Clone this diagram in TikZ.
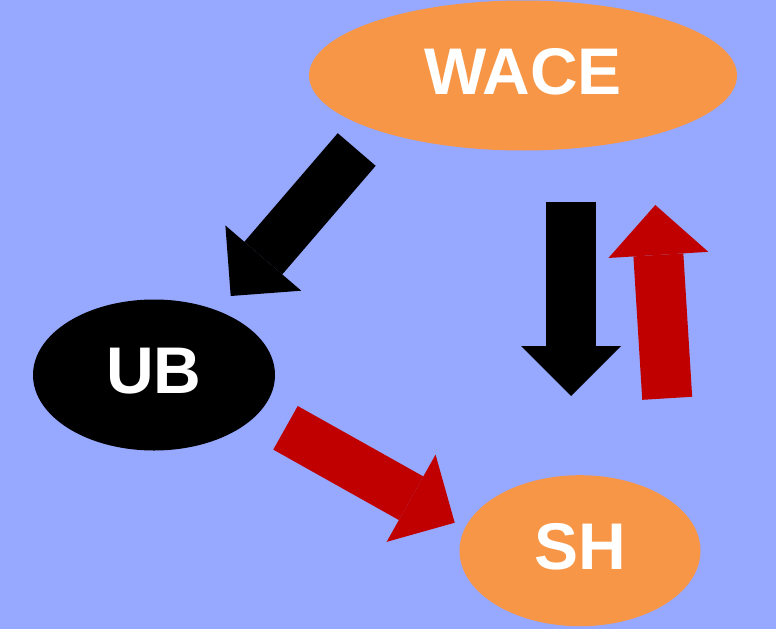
\documentclass[tikz,border=0pt]{standalone}
\usepackage{fontspec}
\setmainfont{Liberation Sans}
\usetikzlibrary{arrows.meta, shapes.geometric}

\definecolor{bgblue}{RGB}{151,168,255}
\definecolor{bloborange}{RGB}{247,150,70}
\definecolor{darkred}{RGB}{192,0,0}

\begin{document}
\begin{tikzpicture}[x=1pt,y=-1pt,
  blob/.style={ellipse, inner sep=0pt, text=white, text depth=9pt,
    font=\fontsize{66}{66}\selectfont\bfseries},
  bigarrow/.style={line width=50pt, -{Triangle[width=100pt,length=50pt,line width=0pt]}}]
\fill[bgblue] (0,0) rectangle (776,629);
\useasboundingbox (0,0) rectangle (776,629);
% the three ellipses
\node[blob, fill=bloborange, minimum width=428pt, minimum height=150pt] (wace) at (523,75.5) {WACE};
\node[blob, fill=black, minimum width=242pt, minimum height=151pt] (ub) at (154,375) {UB};
\node[blob, fill=bloborange, minimum width=241pt, minimum height=151pt] (sh) at (580,550.7) {SH};
% ends of the block arrows
\coordinate (wace-ub-tail) at (356.7,149.5);
\coordinate (wace-ub-tip) at (230.7,296);
\coordinate (wace-sh-tail) at (571,202.3);
\coordinate (wace-sh-tip) at (571,396);
\coordinate (sh-wace-tail) at (667.2,398.3);
\coordinate (sh-wace-tip) at (655.3,205);
\coordinate (ub-sh-tail) at (285.5,427.8);
\coordinate (ub-sh-tip) at (454.7,522.7);
\draw[bigarrow, black] (wace-ub-tail) -- (wace-ub-tip);
\draw[bigarrow, black] (wace-sh-tail) -- (wace-sh-tip);
\draw[bigarrow, darkred] (sh-wace-tail) -- (sh-wace-tip);
\draw[bigarrow, darkred] (ub-sh-tail) -- (ub-sh-tip);
\end{tikzpicture}
\end{document}
